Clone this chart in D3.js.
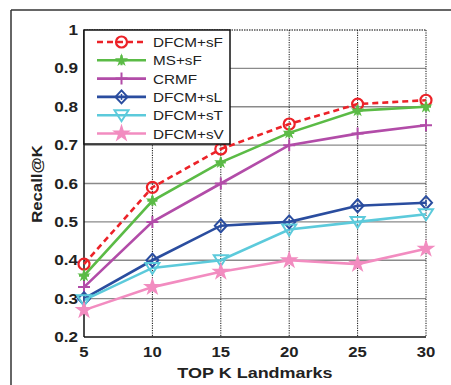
<!DOCTYPE html>
<html><head><meta charset="utf-8">
<script src="https://cdn.jsdelivr.net/npm/d3@7"></script>
<style>html,body{margin:0;padding:0;background:#fff;}svg{display:block;}</style>
</head><body>
<svg id="c" width="451" height="385"></svg>
<script>
const kValues = [5, 10, 15, 20, 25, 30];
const seriesNames = ["DFCM+sF", "MS+sF", "CRMF", "DFCM+sL", "DFCM+sT", "DFCM+sV"];
const dfcmSF = [0.39, 0.59, 0.69, 0.755, 0.807, 0.817];
const msSF   = [0.36, 0.555, 0.655, 0.732, 0.79, 0.80];
const crmf   = [0.33, 0.50, 0.60, 0.70, 0.73, 0.752];
const dfcmSL = [0.30, 0.40, 0.49, 0.50, 0.542, 0.55];
const dfcmST = [0.296, 0.38, 0.40, 0.48, 0.50, 0.52];
const dfcmSV = [0.27, 0.33, 0.37, 0.40, 0.39, 0.43];
const yTicks = [0.2, 0.3, 0.4, 0.5, 0.6, 0.7, 0.8, 0.9, 1];
const yTickLabels = ["0.2", "0.3", "0.4", "0.5", "0.6", "0.7", "0.8", "0.9", "1"];
const xLabel = "TOP K Landmarks";
const yLabel = "Recall@K";

const styles = [
  {color: "#ec2228", dash: "6,4", marker: "circle"},
  {color: "#5bbb46", dash: null, marker: "asterisk"},
  {color: "#b24ca8", dash: null, marker: "plus"},
  {color: "#2a4d9f", dash: null, marker: "diamond"},
  {color: "#5ccadb", dash: null, marker: "triangle"},
  {color: "#f28cc0", dash: null, marker: "star"}
];
const allData = [dfcmSF, msSF, crmf, dfcmSL, dfcmST, dfcmSV];

const svg = d3.select("#c");
const L = 84, R = 426, T = 30, B = 337;
const x = d3.scaleLinear().domain([5, 30]).range([L, R]);
const y = d3.scaleLinear().domain([0.2, 1]).range([B, T]);

function stretch(sel, f) {
  sel.each(function() {
    const w = this.getComputedTextLength();
    d3.select(this).attr("textLength", w * f).attr("lengthAdjust", "spacingAndGlyphs");
  });
}

// outer frame
svg.append("line").attr("x1", 11).attr("x2", 451).attr("y1", 10).attr("y2", 10)
  .attr("stroke", "#333").attr("stroke-width", 1.5);
svg.append("line").attr("x1", 11).attr("x2", 11).attr("y1", 10).attr("y2", 385)
  .attr("stroke", "#333").attr("stroke-width", 1.5);

// horizontal grid
svg.append("g").selectAll("line").data(yTicks.filter(v => v > 0.2)).join("line")
  .attr("x1", L).attr("x2", R).attr("y1", d => y(d)).attr("y2", d => y(d))
  .attr("stroke", d => d === 1 ? "#555" : "#8a8a8a")
  .attr("stroke-width", 1.4)
  .attr("stroke-dasharray", d => d === 1 ? "1.5,1" : null);
// vertical dotted grid
svg.append("g").selectAll("line").data(kValues.filter(v => v > 5)).join("line")
  .attr("x1", d => x(d)).attr("x2", d => x(d)).attr("y1", T).attr("y2", B)
  .attr("stroke", "#111").attr("stroke-width", 1)
  .attr("stroke-dasharray", "1.2,1.2");

// axes lines
svg.append("line").attr("x1", L).attr("x2", L).attr("y1", T).attr("y2", B)
  .attr("stroke", "#111").attr("stroke-width", 1.5);
svg.append("line").attr("x1", L).attr("x2", R).attr("y1", B).attr("y2", B)
  .attr("stroke", "#111").attr("stroke-width", 1.5);

// y tick labels
const yt = svg.append("g").selectAll("text").data(yTicks).join("text")
  .attr("x", L - 6).attr("y", d => y(d) + 5)
  .attr("text-anchor", "end")
  .attr("font-family", "Liberation Sans, Arial, sans-serif")
  .attr("font-weight", "bold").attr("font-size", 14.5).attr("fill", "#222")
  .text((d, i) => yTickLabels[i]);
stretch(yt, 1.18);
// x tick labels
const xt = svg.append("g").selectAll("text").data(kValues).join("text")
  .attr("x", d => x(d)).attr("y", 356.5)
  .attr("text-anchor", "middle")
  .attr("font-family", "Liberation Sans, Arial, sans-serif")
  .attr("font-weight", "bold").attr("font-size", 14.5).attr("fill", "#222")
  .text(d => d);
stretch(xt, 1.15);

// axis labels
const xl = svg.append("text").attr("x", (L + R) / 2).attr("y", 377.5)
  .attr("text-anchor", "middle")
  .attr("font-family", "Liberation Sans, Arial, sans-serif")
  .attr("font-weight", "bold").attr("font-size", 15.5).attr("fill", "#222")
  .text(xLabel);
stretch(xl, 1.16);
const yl = svg.append("text")
  .attr("transform", "translate(42," + 184 + ") rotate(-90)")
  .attr("text-anchor", "middle")
  .attr("font-family", "Liberation Sans, Arial, sans-serif")
  .attr("font-weight", "bold").attr("font-size", 15.5).attr("fill", "#222")
  .text(yLabel);
stretch(yl, 1.08);

function drawMarker(g, type, color) {
  if (type === "circle") {
    g.append("circle").attr("r", 5.5).attr("fill", "none").attr("stroke", color).attr("stroke-width", 2.2);
  } else if (type === "asterisk") {
    g.append("path").attr("d", d3.symbol().type(d3.symbolStar).size(55)()).attr("fill", color);
    g.append("path").attr("d", "M-5,0H5M0,-5V5").attr("stroke", color).attr("stroke-width", 2.2);
  } else if (type === "plus") {
    g.append("path").attr("d", "M-6,0H6M0,-6V6").attr("stroke", color).attr("stroke-width", 2);
  } else if (type === "diamond") {
    g.append("path").attr("d", "M0,-6.5L6,0L0,6.5L-6,0Z").attr("fill", "none").attr("stroke", color).attr("stroke-width", 2);
    g.append("path").attr("d", "M0,-3V3").attr("stroke", color).attr("stroke-width", 1.5);
  } else if (type === "triangle") {
    g.append("path").attr("d", "M-7,-5H7L0,6Z").attr("fill", "none").attr("stroke", color).attr("stroke-width", 2);
  } else if (type === "star") {
    g.append("path").attr("d", d3.symbol().type(d3.symbolStar).size(110)()).attr("fill", color);
  }
}

const line = d3.line().x((d, i) => x(kValues[i])).y(d => y(d));
allData.forEach((vals, si) => {
  const st = styles[si];
  svg.append("path").datum(vals).attr("d", line)
    .attr("fill", "none").attr("stroke", st.color).attr("stroke-width", 2.6)
    .attr("stroke-dasharray", st.dash);
});
allData.forEach((vals, si) => {
  const st = styles[si];
  vals.forEach((v, i) => {
    const g = svg.append("g").attr("transform", `translate(${x(kValues[i])},${y(v)})`);
    drawMarker(g, st.marker, st.color);
  });
});

// legend
const lg = svg.append("g");
lg.append("rect").attr("x", L).attr("y", T).attr("width", 146).attr("height", 114)
  .attr("fill", "#fff").attr("stroke", "#111").attr("stroke-width", 1.5);
seriesNames.forEach((name, i) => {
  const st = styles[i];
  const cy = 42 + i * 18.3;
  lg.append("line").attr("x1", 97).attr("x2", 146).attr("y1", cy).attr("y2", cy)
    .attr("stroke", st.color).attr("stroke-width", 2.6).attr("stroke-dasharray", st.dash);
  const g = lg.append("g").attr("transform", `translate(121.5,${cy})`);
  drawMarker(g, st.marker, st.color);
  const t = lg.append("text").attr("x", 153).attr("y", cy + 5)
    .attr("font-family", "Liberation Sans, Arial, sans-serif")
    .attr("font-size", 13.5).attr("fill", "#222").text(name);
  stretch(t, 1.13);
});
</script>
</body></html>
